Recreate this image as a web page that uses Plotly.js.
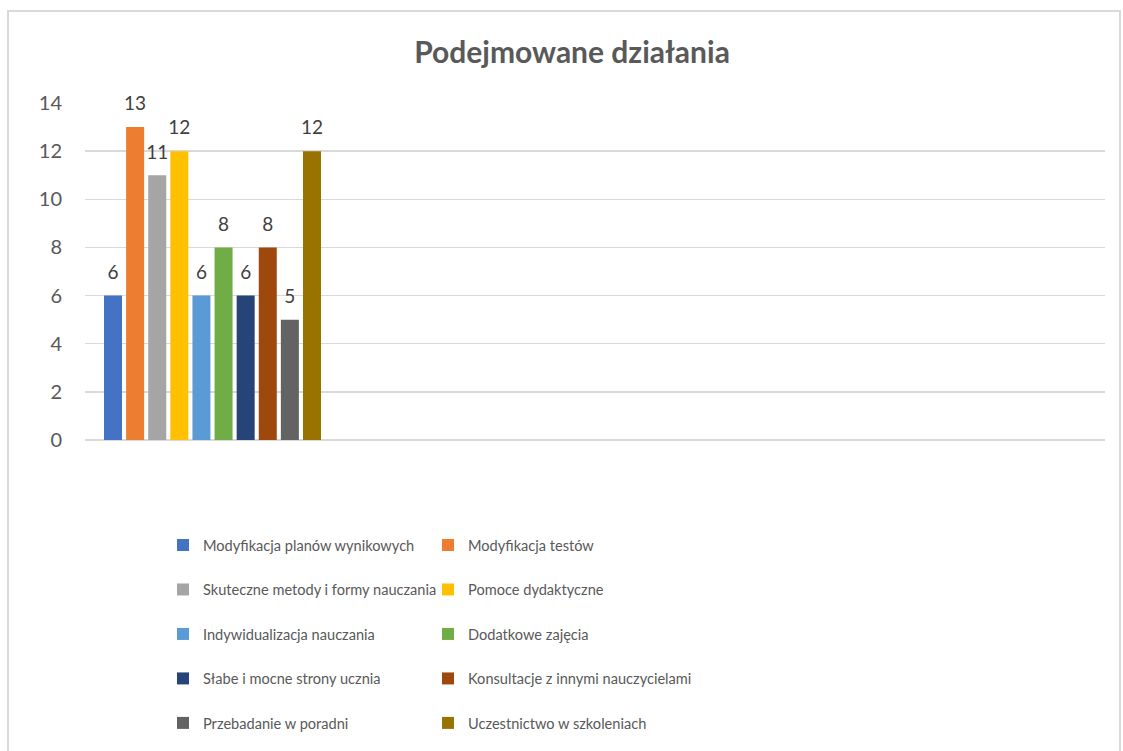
<!DOCTYPE html>
<html>
<head>
<meta charset="utf-8">
<script src="https://cdn.plot.ly/plotly-3.0.1.min.js"></script>
<style>
  html, body { margin: 0; padding: 0; background: #ffffff; }
  #chart { width: 1123px; height: 751px; }
  #frame { position: absolute; left: 7px; top: 10px; width: 1114px; height: 760px;
           border: 2px solid #d9d9d9; box-sizing: border-box; pointer-events: none; }
</style>
</head>
<body>
<div id="chart"></div>
<div id="frame"></div>
<script>
const chartTitle = "Podejmowane działania";
const seriesNames = [
  "Modyfikacja planów wynikowych",
  "Modyfikacja testów",
  "Skuteczne metody i formy nauczania",
  "Pomoce dydaktyczne",
  "Indywidualizacja nauczania",
  "Dodatkowe zajęcia",
  "Słabe i mocne strony ucznia",
  "Konsultacje z innymi nauczycielami",
  "Przebadanie w poradni",
  "Uczestnictwo w szkoleniach"
];
const seriesValues = [6, 13, 11, 12, 6, 8, 6, 8, 5, 12];
const seriesColors = ["#4472C4", "#ED7D31", "#A5A5A5", "#FFC000", "#5B9BD5",
                      "#70AD47", "#264478", "#9E480E", "#636363", "#997300"];
const categoryIndex = 0;           // only the first of four category slots holds data
const categorySlots = [0, 1, 2, 3];
const yTicks = [0, 2, 4, 6, 8, 10, 12, 14];

const FONT = "Lato, 'Open Sans', sans-serif";

const traces = seriesNames.map((name, i) => ({
  type: "bar",
  name: name,
  x: [categoryIndex],
  y: [seriesValues[i]],
  text: ["<span style='font-size:19px'>" + seriesValues[i] + "</span><br> "],
  textposition: "outside",
  constraintext: "none",
  cliponaxis: false,
  textfont: { family: FONT, size: 9, color: "#404040" },
  marker: { color: seriesColors[i] },
  legend: i % 2 === 0 ? "legend" : "legend2",
  legendgroup: "g" + i,
  hoverinfo: "name+y"
}));

const legendCommon = {
  orientation: "v",
  xref: "container", yref: "container",
  xanchor: "left", yanchor: "top",
  y: 1 - 529 / 751,
  font: { family: FONT, size: 14.6, color: "#595959" },
  tracegroupgap: 22.5,
  itemwidth: 30,
  bgcolor: "rgba(0,0,0,0)"
};

const layout = {
  width: 1123, height: 751,
  paper_bgcolor: "#ffffff", plot_bgcolor: "#ffffff",
  margin: { l: 85, r: 18, t: 103, b: 311, autoexpand: false },
  title: {
    text: "<b>" + chartTitle + "</b>",
    x: 572 / 1123, xref: "container", xanchor: "center",
    y: 1 - 52 / 751, yanchor: "middle",
    font: { family: FONT, size: 30, color: "#595959" }
  },
  barmode: "group",
  bargap: 0.133,
  bargroupgap: 0.185,
  xaxis: {
    range: [categorySlots[0] - 0.5, categorySlots[categorySlots.length - 1] + 0.5],
    showticklabels: false, showgrid: false, zeroline: false, showline: false,
    fixedrange: true
  },
  yaxis: {
    range: [0, 14],
    tickvals: yTicks,
    ticktext: yTicks.map(String),
    showgrid: true, gridcolor: "#d9d9d9", gridwidth: 1.5,
    zeroline: true, zerolinecolor: "#d9d9d9", zerolinewidth: 1.5,
    showline: false, ticks: "",
    ticklabelstandoff: 22,
    tickfont: { family: FONT, size: 20, color: "#595959" },
    fixedrange: true
  },
  legend: Object.assign({}, legendCommon, { x: 163 / 1123 }),
  legend2: Object.assign({}, legendCommon, { x: 428 / 1123 }),
  showlegend: true
};

Plotly.newPlot("chart", traces, layout, { displayModeBar: false, staticPlot: true });
</script>
</body>
</html>
